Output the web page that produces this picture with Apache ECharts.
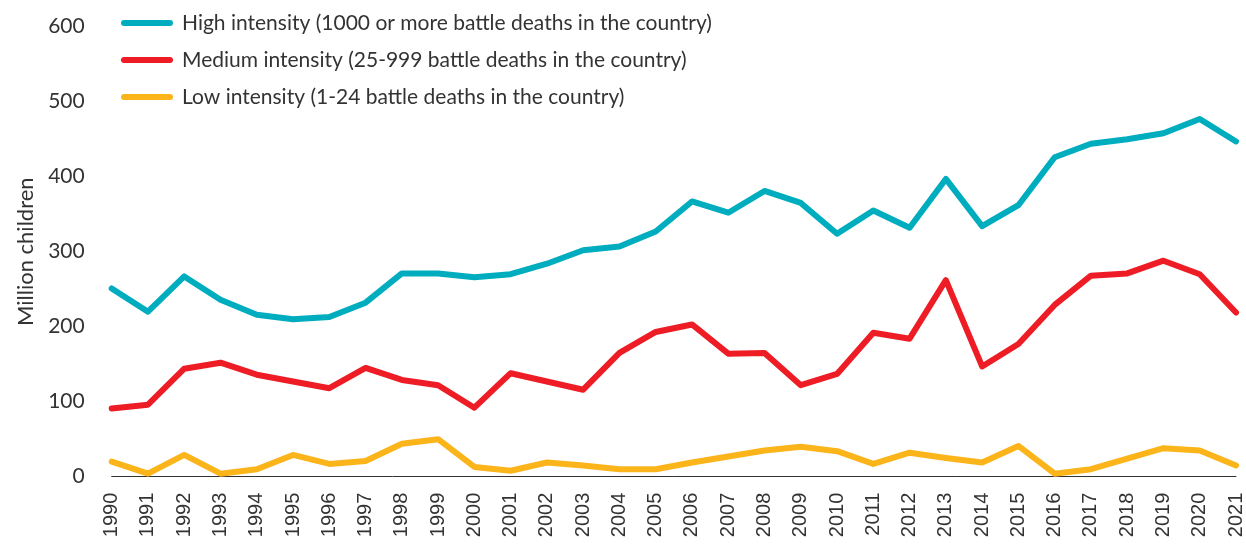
<!DOCTYPE html>
<html>
<head>
<meta charset="utf-8">
<script src="https://cdn.jsdelivr.net/npm/echarts@6/dist/echarts.min.js"></script>
<style>
  html, body { margin: 0; padding: 0; background: #fff; }
  #main { width: 1246px; height: 544px; }
</style>
</head>
<body>
<div id="main"></div>
<script>
var years = ['1990', '1991', '1992', '1993', '1994', '1995', '1996', '1997', '1998', '1999',
  '2000', '2001', '2002', '2003', '2004', '2005', '2006', '2007', '2008', '2009',
  '2010', '2011', '2012', '2013', '2014', '2015', '2016', '2017', '2018', '2019',
  '2020', '2021'];

var highIntensity = [251, 220, 267, 236, 216, 210, 213, 232, 271, 271,
  266, 270, 284, 302, 307, 327, 367, 352, 381, 365,
  324, 355, 332, 397, 334, 362, 426, 444, 450, 458,
  477, 447];

var mediumIntensity = [91, 96, 144, 152, 136, 127, 118, 145, 129, 122,
  92, 138, 127, 116, 165, 193, 203, 164, 165, 122,
  137, 192, 184, 262, 147, 177, 229, 268, 271, 288,
  270, 219];

var lowIntensity = [20, 4, 29, 4, 10, 29, 17, 21, 44, 50,
  13, 8, 19, 15, 10, 10, 19, 27, 35, 40,
  34, 17, 32, 25, 19, 41, 4, 10, 24, 38,
  35, 15];

var seriesNames = [
  'High intensity (1000 or more battle deaths in the country)',
  'Medium intensity (25-999 battle deaths in the country)',
  'Low intensity (1-24 battle deaths in the country)'
];
var colors = ['#00adbf', '#ee1d25', '#fbb41a'];

var chartDom = document.getElementById('main');
var myChart = echarts.init(chartDom);

function makeLine(name, data, color) {
  return {
    name: name,
    type: 'line',
    data: data,
    symbol: 'none',
    lineStyle: { width: 6, color: color, cap: 'round', join: 'round' },
    itemStyle: { color: color }
  };
}

var option = {
  animation: false,
  color: colors,
  textStyle: { fontFamily: 'Lato' },
  legend: {
    orient: 'vertical',
    left: 121,
    top: 12,
    padding: 0,
    icon: 'path://M3,0 L49,0 A3,3 0 0 1 49,6 L3,6 A3,3 0 0 1 3,0 Z',
    itemWidth: 52,
    itemHeight: 6,
    itemGap: 15,
    itemTextGap: 13,
    textStyle: { fontSize: 21, color: '#333', fontFamily: 'Lato', lineHeight: 22, padding: [0, 0, 0, 4] },
    data: seriesNames
  },
  grid: {
    left: 111.7,
    right: 4.4,
    top: 26.7,
    bottom: 67.3,
    containLabel: false
  },
  xAxis: {
    type: 'category',
    boundaryGap: false,
    data: years,
    axisLine: { show: true, lineStyle: { color: '#333', width: 1 } },
    axisTick: { show: false },
    axisLabel: {
      rotate: 90,
      interval: 0,
      margin: 16,
      fontSize: 20,
      color: '#333',
      fontFamily: 'Liberation Sans'
    },
    splitLine: { show: false }
  },
  yAxis: {
    type: 'value',
    min: 0,
    max: 600,
    interval: 100,
    name: 'Million children',
    nameLocation: 'middle',
    nameGap: 72,
    nameTextStyle: { fontSize: 22, color: '#333', fontFamily: 'Lato' },
    axisLine: { show: false },
    axisTick: { show: false },
    splitLine: { show: false },
    axisLabel: { fontSize: 21, color: '#333', margin: 27, fontFamily: 'Lato' }
  },
  series: [
    makeLine(seriesNames[0], highIntensity, colors[0]),
    makeLine(seriesNames[1], mediumIntensity, colors[1]),
    makeLine(seriesNames[2], lowIntensity, colors[2])
  ]
};

option && myChart.setOption(option);
window.addEventListener('resize', myChart.resize);
</script>
</body>
</html>
